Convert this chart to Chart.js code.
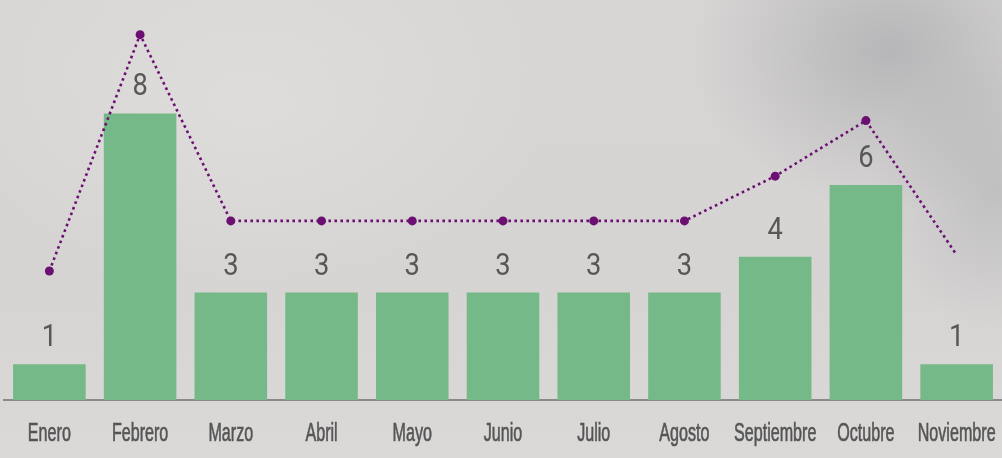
<!DOCTYPE html>
<html><head><meta charset="utf-8">
<script src="https://cdn.jsdelivr.net/npm/chart.js@4"></script>
<style>
html,body{margin:0;padding:0;}
body{width:1002px;height:458px;overflow:hidden;
background:
radial-gradient(ellipse 200px 160px at 890px 50px, rgba(150,150,155,0.5), rgba(150,150,155,0) 100%),
radial-gradient(ellipse 120px 140px at 995px 190px, rgba(160,160,165,0.4), rgba(160,160,165,0) 100%),
radial-gradient(ellipse 300px 200px at 250px 100px, rgba(232,230,228,0.45), rgba(232,230,228,0) 100%),
linear-gradient(180deg,#d8d6d5 0%,#d6d4d3 60%,#dbd9d8 100%);}
#wrap{position:absolute;left:0;top:0;width:1002px;height:458px;}
</style></head>
<body><div id="wrap"><canvas id="c" width="1002" height="458"></canvas></div>
<script>
const categories = ["Enero","Febrero","Marzo","Abril","Mayo","Junio","Julio","Agosto","Septiembre","Octubre","Noviembre"];
const barValues = [1,8,3,3,3,3,3,3,4,6,1];
const lineValues = [3.6,10.2,5.0,5.0,5.0,5.0,5.0,5.0,6.25,7.8,4.05];
const linePointRadius = [4.5,4.5,4.5,4.5,4.5,4.5,4.5,4.5,4.5,4.5,0];

const valueLabels = {
  id:'valueLabels',
  afterDatasetsDraw(chart){
    const ctx = chart.ctx;
    const meta = chart.getDatasetMeta(1);
    ctx.save();
    ctx.font = '31px Roboto';
    ctx.fillStyle = '#575757';
    ctx.textAlign = 'center';
    ctx.textBaseline = 'alphabetic';
    meta.data.forEach((bar,i)=>{
      ctx.save();
      ctx.translate(bar.x, bar.y - 18);
      ctx.scale(0.88,1);
      ctx.fillText(String(barValues[i]), 0, 0);
      ctx.restore();
    });
    ctx.restore();
  }
};

// condensed category labels drawn at the x scale's tick positions
const condensedTicks = {
  id:'condensedTicks',
  afterDraw(chart){
    const ctx = chart.ctx;
    const xs = chart.scales.x;
    ctx.save();
    ctx.font = '25px "Liberation Sans"';
    const sx = 43 / ctx.measureText('Enero').width;
    ctx.fillStyle = '#555';
    ctx.strokeStyle = '#555';
    ctx.lineWidth = 0.6;
    ctx.textAlign = 'center';
    ctx.textBaseline = 'alphabetic';
    categories.forEach((c,i)=>{
      const x = xs.getPixelForTick(i);
      ctx.save();
      ctx.translate(x, 441);
      ctx.scale(sx,1);
      ctx.fillText(c,0,0);
      ctx.strokeText(c,0,0);
      ctx.restore();
    });
    ctx.restore();
  }
};

new Chart(document.getElementById('c'),{
  data:{
    labels:categories,
    datasets:[
      {type:'line',data:lineValues,borderColor:'#6b0f72',borderWidth:2.6,borderDash:[2.6,3.4],
       pointRadius:linePointRadius,pointBackgroundColor:'#6b0f72',pointBorderWidth:0,fill:false,tension:0,order:0,clip:false},
      {type:'bar',data:barValues,backgroundColor:'#76b988',barPercentage:0.8,categoryPercentage:1,order:1}
    ]
  },
  options:{
    responsive:false,animation:false,
    layout:{autoPadding:false,padding:{left:4,right:-1.5,top:6,bottom:0}},
    plugins:{legend:{display:false},tooltip:{enabled:false}},
    scales:{
      y:{display:false,min:0,max:11},
      x:{
        grid:{display:false,drawTicks:false},
        border:{display:true,color:'#8a8a8a',width:2},
        ticks:{display:false},
        afterFit(s){s.height=58;}
      }
    }
  },
  plugins:[valueLabels,condensedTicks]
});
</script></body></html>
